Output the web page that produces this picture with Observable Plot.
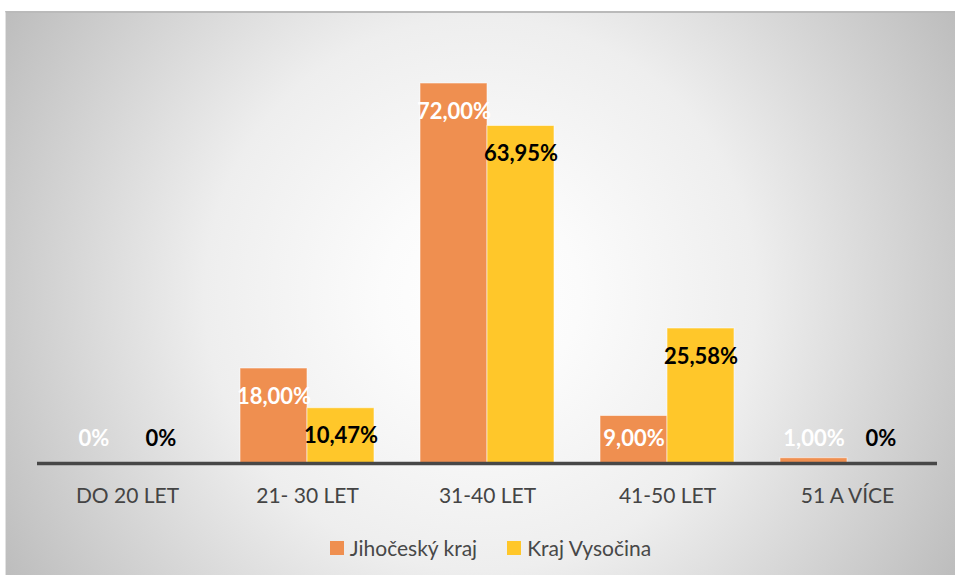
<!DOCTYPE html>
<html><head><meta charset="utf-8">
<script src="https://cdn.jsdelivr.net/npm/d3@7"></script>
<script src="https://cdn.jsdelivr.net/npm/@observablehq/plot@0.6"></script>
<style>
body{margin:0;width:955px;height:575px;overflow:hidden;background:#fff;font-family:Lato,sans-serif;position:relative;}
#frame{position:absolute;left:5px;top:11px;width:950px;height:564px;box-sizing:border-box;border-top:2px solid #bababa;border-left:1px solid #e2e2e2;
 background:radial-gradient(circle farthest-corner at 50% 50%, #ffffff 0%, #fbfbfb 18%, #eeeeee 50%, #bdbdbd 100%);}
#chart{position:absolute;left:0;top:0;}
#legend{position:absolute;top:535px;left:13px;width:955px;display:flex;justify-content:center;align-items:center;font-size:21px;color:#484848;}
#legend .item{display:flex;align-items:center;margin:0 15px;}
#legend .sw{width:14px;height:14px;margin-right:6px;}
</style></head>
<body>
<div id="frame"></div>
<div id="chart"></div>
<div id="legend"></div>
<script>
const categories = ["DO 20 LET", "21- 30 LET", "31-40 LET", "41-50 LET", "51 A VÍCE"];
const series = ["Jihočeský kraj", "Kraj Vysočina"];
const jihocesky = [0, 18.00, 72.00, 9.00, 1.00];
const vysocina = [0, 10.47, 63.95, 25.58, 0];
const colors = ["#EF8F50", "#FFC72A"];
const labelColors = ["#ffffff", "#000000"];

const data = [];
categories.forEach((c, i) => {
  data.push({cat: c, series: series[0], value: jihocesky[i]});
  data.push({cat: c, series: series[1], value: vysocina[i]});
});
const fmt = v => v === 0 ? "0%" : v.toFixed(2).replace(".", ",") + "%";

const baseline = 463, topPx = 83;
const yMax = 80;
const marginTop = baseline - yMax * (baseline - topPx) / 72;

const chart = Plot.plot({
  width: 955,
  height: 520,
  marginLeft: 36,
  marginRight: 17,
  marginTop: marginTop,
  marginBottom: 520 - baseline,
  style: {background: "transparent", fontFamily: "Lato, sans-serif"},
  fx: {domain: categories, padding: 0, label: null},
  x: {domain: series, paddingInner: 0, paddingOuter: 0.33, axis: null},
  y: {domain: [0, yMax], axis: null},
  color: {domain: series, range: colors},
  marks: [
    Plot.barY(data, {fx: "cat", x: "series", y: "value", fill: "series", stroke: "rgba(255,255,255,0.55)", strokeWidth: 1}),
    Plot.ruleY([0], {stroke: "#474747", strokeWidth: 3.5}),
    Plot.text(data, {
      fx: "cat", x: "series", y: d => Math.max(d.value, 10), dy: 28,
      text: d => fmt(d.value),
      fill: d => labelColors[series.indexOf(d.series)],
      fontWeight: "bold", fontSize: 22
    }),
    Plot.axisFx({anchor: "bottom", tickSize: 0, tickPadding: 25, fontSize: 21, fill: "#444444", label: null})
  ]
});
document.getElementById("chart").appendChild(chart);

const legend = document.getElementById("legend");
series.forEach((s, i) => {
  const item = document.createElement("div");
  item.className = "item";
  const sw = document.createElement("span");
  sw.className = "sw";
  sw.style.background = colors[i];
  const t = document.createElement("span");
  t.textContent = s;
  item.appendChild(sw);
  item.appendChild(t);
  legend.appendChild(item);
});
</script>
</body></html>
